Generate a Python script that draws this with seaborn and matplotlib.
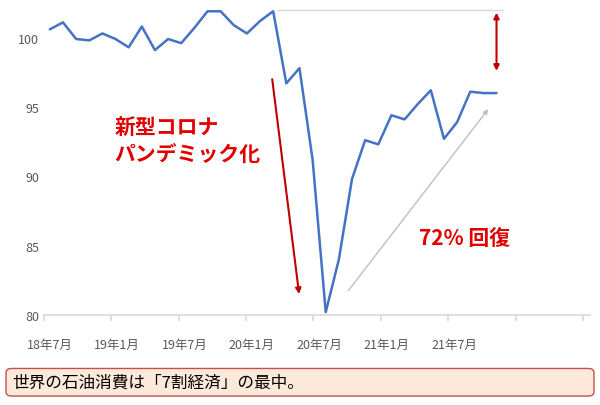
import matplotlib
matplotlib.use("Agg")
import matplotlib.pyplot as plt
import seaborn as sns
import pandas as pd
from matplotlib.patches import FancyBboxPatch

sns.set_theme(style="white")
plt.rcParams['font.family'] = ['Noto Sans CJK JP', 'DejaVu Sans']

values = [100.6, 101.1, 99.9, 99.8, 100.3, 99.9, 99.3, 100.8, 99.1, 99.9, 99.6, 100.7,
          101.9, 101.9, 100.9, 100.3, 101.2, 101.9, 96.7, 97.8, 91.2, 80.2, 84.0, 89.8,
          92.6, 92.3, 94.4, 94.1, 95.2, 96.2, 92.7, 93.9, 96.1, 96.0, 96.0]
tick_labels = ["18年7月", "19年1月", "19年7月", "20年1月", "20年7月", "21年1月", "21年7月"]
yticks = [80, 85, 90, 95, 100]

df = pd.DataFrame({"i": range(len(values)), "v": values})

fig = plt.figure(figsize=(6, 4.06), dpi=100)
ax = fig.add_axes([0.073, 0.222, 0.91, 0.758])
sns.lineplot(data=df, x="i", y="v", ax=ax, color="#4472c4", linewidth=1.8)
x0 = -0.46
ax.set_xlim(x0, 41.1)
ax.set_ylim(80, 102.2)
step = 5.13
ax.set_xticks([x0 + step * k for k in range(9)])
ax.set_xticklabels([])
for k, lab in enumerate(tick_labels):
    ax.text(x0 + step * k + 0.45, 78.3, lab, ha="center", va="top", fontsize=9, color="#595959")
ax.set_yticks(yticks)
ax.set_yticklabels([str(t) for t in yticks], fontsize=9, color="#595959")
ax.tick_params(axis="x", length=4, color="#d9d9d9", bottom=True)
ax.tick_params(axis="y", length=0)
ax.set_xlabel(""); ax.set_ylabel("")
for s in ["top", "right", "left"]:
    ax.spines[s].set_visible(False)
ax.spines["bottom"].set_color("#d9d9d9")

# annotations
ax.plot([17.3, 34.5], [102.0, 102.0], color="#d9d9d9", lw=1)
ax.annotate("", xy=(34.0, 97.4), xytext=(34.0, 102.0),
            arrowprops=dict(arrowstyle="<|-|>", color="#c00000", lw=1.5, mutation_scale=8))
ax.annotate("", xy=(19.0, 81.3), xytext=(16.9, 97.2),
            arrowprops=dict(arrowstyle="-|>", color="#c00000", lw=1.5, mutation_scale=8))
ax.annotate("", xy=(33.5, 95.0), xytext=(22.6, 81.6),
            arrowprops=dict(arrowstyle="-|>", color="#bfbfbf", lw=1, mutation_scale=7))
ax.text(4.9, 92.6, "新型コロナ\nパンデミック化", color="#e00000", fontsize=15,
        fontweight="bold", ha="left", va="center", linespacing=1.25)
ax.text(28.1, 85.6, "72% 回復", color="#e00000", fontsize=15, fontweight="bold",
        ha="left", va="center")

box = FancyBboxPatch((0.01, 0.022), 0.98, 0.068, boxstyle="round,pad=0,rounding_size=0.01",
                     transform=fig.transFigure, facecolor="#fde9d9", edgecolor="#c0504d", lw=1)
fig.patches.append(box)
fig.text(0.02, 0.056, "世界の石油消費は「7割経済」の最中。", fontsize=12, va="center", color="black")

fig.savefig("out.png", dpi=100)
